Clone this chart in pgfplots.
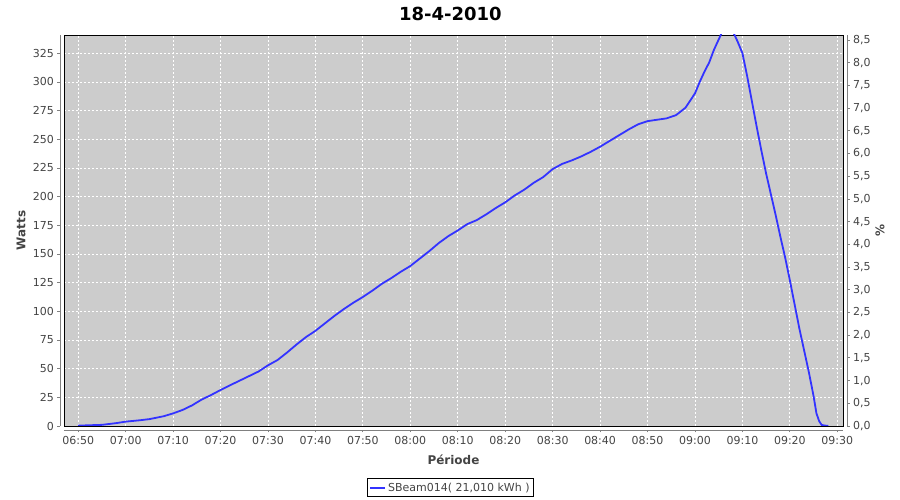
\documentclass[border=0pt]{standalone}
\usepackage{fontspec}
\setmainfont{DejaVu Sans}
\usepackage{pgfplots}
\pgfplotsset{compat=1.18}
\definecolor{plotbg}{RGB}{204,204,204}
\definecolor{serie}{RGB}{51,51,255}
\definecolor{axgray}{RGB}{128,128,128}
\definecolor{txt}{RGB}{68,68,68}
\begin{document}
\begin{tikzpicture}
\useasboundingbox (-64pt,-74pt) rectangle (836pt,426pt);
\begin{axis}[
 scale only axis, width=779pt, height=391pt, at={(0pt,0pt)}, anchor=south west,
 xmin=-3, xmax=161.2, ymin=0, ymax=340.9,
 axis background/.style={fill=plotbg},
 axis line style={black, line width=0.8pt},
 xtick={0,10,...,160},
 xticklabels={06:50,07:00,07:10,07:20,07:30,07:40,07:50,08:00,08:10,08:20,08:30,08:40,08:50,09:00,09:10,09:20,09:30},
 ytick={0,25,...,325},
 grid=major,
 major grid style={white, dash pattern=on 2pt off 2pt, line width=0.8pt},
 tick pos=left,
 tick align=outside, major tick length=2.5pt,
 xtick style={axgray, line width=0.8pt, yshift=-4pt},
 ytick style={axgray, line width=0.8pt, xshift=-4pt},
 tick label style={font=\fontsize{11}{13}\selectfont, text=txt},
 /pgf/number format/assume math mode=true,
 xticklabel style={yshift=-4pt},
 yticklabel style={xshift=-4pt},
 xlabel={Période}, ylabel={Watts},
 label style={font=\bfseries\fontsize{12}{14}\selectfont, text=txt},
 xlabel style={at={(0.5,0)}, anchor=base, yshift=-39pt},
 ylabel style={at={(0,0.5)}, anchor=center, yshift=43pt},
 title={18-4-2010},
 title style={font=\bfseries\fontsize{18}{22}\selectfont, at={(0.496,1)}, anchor=base, yshift=8.5pt},
 legend style={at={(0.496,-0.1575)}, anchor=center, draw=black, line width=0.8pt, font=\fontsize{11}{13}\selectfont, legend cell align=left, inner sep=2pt},
 extra description/.code={
   \draw[axgray, line width=0.8pt] ([yshift=-4pt]rel axis cs:0,0) -- ([yshift=-4pt]rel axis cs:1,0);
   \draw[axgray, line width=0.8pt] ([xshift=-4pt]rel axis cs:0,0) -- ([xshift=-4pt]rel axis cs:0,1);
 },
]
\addplot[serie, line width=1.8pt,
  legend image code/.code={\draw[draw=serie, line width=2pt] (0pt,0pt) -- (15pt,0pt);}] coordinates {
(0,0.3) (2,0.6) (5,1.0) (8,2.5) (10,3.8) (13,5) (15,6) (18,8.5) (20,11) (22,14)
(24,18) (26,23) (28,27) (30,31.4) (32,35.5) (34,39.5) (36,43.5) (38,47.5) (40,52.9) (42,57.5)
(44,64) (46,71) (48,77.5) (50,83) (52,89.5) (54,96) (56,102) (58,107.5) (60,112.5) (62,118)
(64,124) (66,129) (68,134.5) (70,139.5) (72,146) (74,152.5) (76,159.5) (78,165.5) (80,170.5) (82,176)
(84,179.5) (86,184.5) (88,190) (90,195) (92,201) (94,206) (96,212) (98,217) (100,224) (102,228.5)
(104,231.5) (106,235) (108,239) (110,243.5) (112,248.5) (114,253.5) (116,258.5) (118,263) (120,265.8) (122,267)
(124,268.2) (126,271) (128,277.5) (130,290) (131,300) (132,309) (133,317) (134,328) (135,337) (136,346)
(137,349) (138,344) (139,335) (140,325) (141,305) (142,283) (143,261) (144,240) (145,220) (146,202)
(147,184) (148,165) (149,147) (150,127) (151,106) (152,85) (153,66) (154,47) (155,26) (155.6,11)
(156.2,4) (156.7,0.9) (157.5,0.3) (158.1,0.3)
};
\addlegendentry{\textcolor{txt}{SBeam014( 21,010 kWh )}}
\end{axis}
\begin{axis}[
 scale only axis, width=779pt, height=391pt, at={(0pt,0pt)}, anchor=south west,
 xmin=-3, xmax=161.2, ymin=0, ymax=8.61,
 axis x line=none,
 axis y line*=right,
 y axis line style={draw=none},
 ytick={0,0.5,...,8.5},
 tick align=outside, major tick length=2.5pt,
 ytick style={axgray, line width=0.8pt, xshift=4pt},
 yticklabel style={xshift=4pt, font=\fontsize{11}{13}\selectfont, text=txt,
   /pgf/number format/.cd, fixed, fixed zerofill, precision=1, use comma},
 /pgf/number format/assume math mode=true,
 ylabel={\%},
 ylabel style={font=\bfseries\fontsize{12}{14}\selectfont, text=txt, at={(1,0.5)}, anchor=center, yshift=-37pt},
 extra description/.code={
   \draw[axgray, line width=0.8pt] ([xshift=4pt]rel axis cs:1,0) -- ([xshift=4pt]rel axis cs:1,1);
 },
]
\end{axis}
\end{tikzpicture}
\end{document}
